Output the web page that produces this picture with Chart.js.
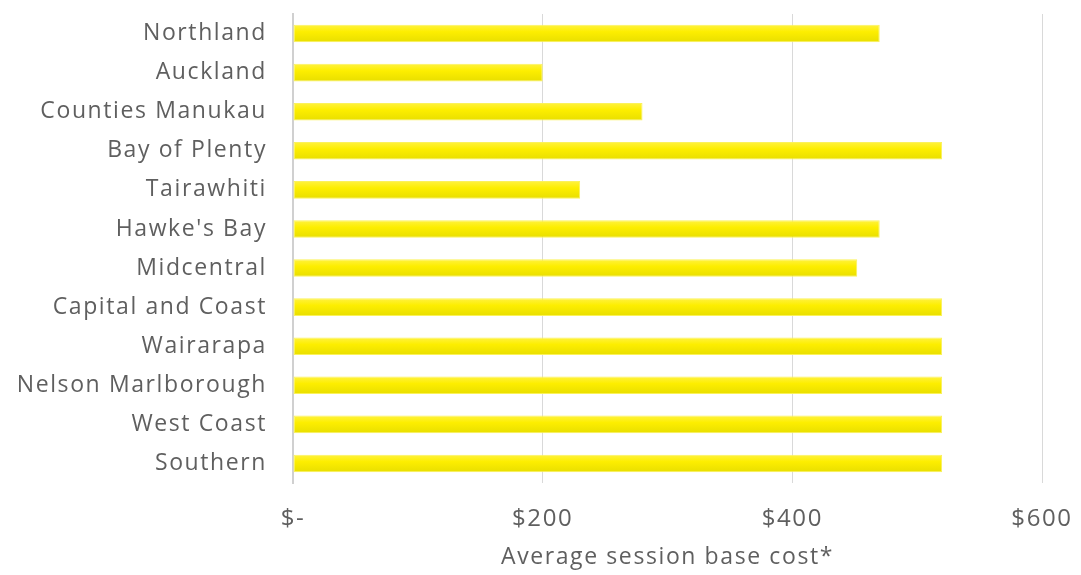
<!DOCTYPE html>
<html>
<head>
<meta charset="utf-8">
<script src="https://cdn.jsdelivr.net/npm/chart.js@4"></script>
<style>
  html, body { margin: 0; padding: 0; background: #fff; }
  #wrap { width: 1081px; height: 575px; position: relative; }
</style>
</head>
<body>
<div id="wrap"><canvas id="bar-chart"></canvas></div>
<script>
// regions, top to bottom
var regions = ['Northland', 'Auckland', 'Counties Manukau', 'Bay of Plenty', 'Tairawhiti',
  "Hawke's Bay", 'Midcentral', 'Capital and Coast', 'Wairarapa', 'Nelson Marlborough',
  'West Coast', 'Southern'];
var baseCost = [470, 200, 280, 520, 230, 470, 452, 520, 520, 520, 520, 520];
var xTicks = [0, 200, 400, 600];
var xTitle = 'Average session base cost*';

var grey = '#5f5f5f';
var font = "'Open Sans', sans-serif";

// spread letters a little like the original typeface
var spacing = {
  id: 'spacing',
  beforeDraw: function(chart) { chart.ctx.letterSpacing = '1.6px'; }
};

// soft vertical shading on each bar
function barFill(c) {
  var ch = c.chart;
  if (!ch.chartArea || !ch.scales.y) return '#f7ea06';
  var y = ch.scales.y.getPixelForValue(c.dataIndex);
  var g = ch.ctx.createLinearGradient(0, y - 9, 0, y + 9);
  g.addColorStop(0, '#fff243');
  g.addColorStop(0.4, '#fdee00');
  g.addColorStop(1, '#e8de00');
  return g;
}

var ctx = document.getElementById('bar-chart').getContext('2d');
new Chart(ctx, {
  type: 'bar',
  data: {
    labels: regions,
    datasets: [{
      label: xTitle,
      data: baseCost,
      backgroundColor: barFill,
      borderColor: '#fbf25a',
      borderWidth: 1,
      borderSkipped: false,
      barPercentage: 0.45,
      categoryPercentage: 1
    }]
  },
  options: {
    indexAxis: 'y',
    responsive: true,
    maintainAspectRatio: false,
    animation: false,
    layout: { padding: { top: 14, right: 39, left: 0, bottom: 0 } },
    plugins: { legend: { display: false }, tooltip: { enabled: false } },
    scales: {
      x: {
        min: 0, max: 600,
        afterBuildTicks: function(s) { s.ticks = xTicks.map(function(v) { return { value: v }; }); },
        grid: { color: '#d9d9d9', lineWidth: 1, drawTicks: false },
        border: { display: false },
        ticks: {
          color: grey, font: { family: font, size: 24 }, padding: 22,
          callback: function(v) { return v === 0 ? '$-' : '$' + v; }
        },
        title: { display: true, text: xTitle, color: grey, font: { family: font, size: 23 }, padding: { top: 6 } },
        afterFit: function(s) { s.height = 92; s.paddingLeft = 0; s.paddingRight = 0; }
      },
      y: {
        grid: { display: false, drawTicks: false },
        border: { display: true, color: '#d0d0d0', width: 2 },
        ticks: { color: grey, font: { family: font, size: 23 }, padding: 26 },
        afterFit: function(s) { s.width = 293; s.paddingTop = 0; s.paddingBottom = 0; }
      }
    }
  },
  plugins: [spacing]
});
</script>
</body>
</html>
